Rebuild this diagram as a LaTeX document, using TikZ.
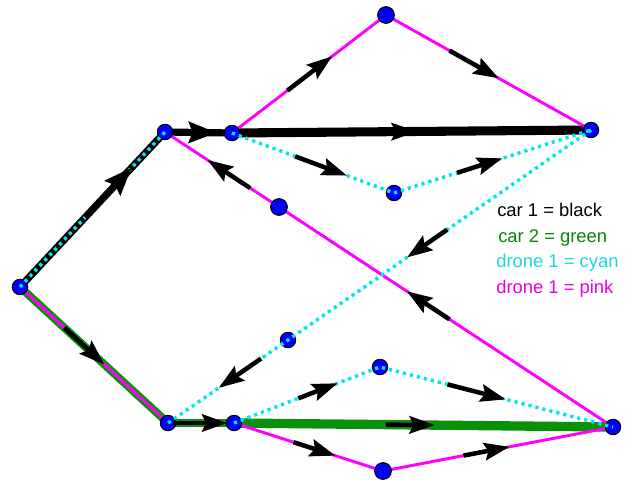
\documentclass[tikz,border=0pt]{standalone}
\usepackage{fontspec}
\setmainfont{Liberation Sans}
\usetikzlibrary{arrows.meta,calc}

\definecolor{cargreen}{RGB}{10,145,10}
\definecolor{dronecyan}{RGB}{0,230,235}
\definecolor{dronepink}{RGB}{255,0,255}
\definecolor{legendcyan}{RGB}{30,215,225}
\definecolor{legendpink}{RGB}{230,0,230}

\tikzset{
  stop/.style={circle,draw=black,fill=blue,line width=0.8pt,minimum size=11.5pt,inner sep=0pt},
  bigstop/.style={stop,minimum size=12.5pt},
  pinkpath/.style={dronepink,line width=2.2pt},
  cyanpath/.style={dronecyan,line width=2.6pt,dash pattern=on 2.4pt off 3pt},
  flow/.style={black,line width=3.4pt,-{Stealth[length=19pt,width=13pt,inset=3pt]}},
  bigflow/.style={black,line width=3.4pt,-{Stealth[length=21pt,width=16pt,inset=3pt]}},
  legend/.style={anchor=base west,inner sep=0pt,font=\fontsize{13.8}{16}\selectfont}
}

\begin{document}
\begin{tikzpicture}[x=0.75pt,y=-0.75pt]
\useasboundingbox (0,0) rectangle (625,479);

% stops
\path (20,287) coordinate (s)
      (165,132) coordinate (b)
      (232,133) coordinate (c)
      (386,15) coordinate (t)
      (591,130) coordinate (r1)
      (394,193) coordinate (m1)
      (279,207) coordinate (p1)
      (168,423) coordinate (d)
      (234,423) coordinate (e)
      (288,340) coordinate (q)
      (380,367) coordinate (m2)
      (613,427) coordinate (r2)
      (383,471) coordinate (bt);

% car 2
\draw[cargreen,line width=6pt] (s) -- (d);
\draw[cargreen,line width=6.5pt] (d) -- (e);
\draw[cargreen,line width=7pt] (e) -- (r2);
% car 1
\draw[black,line width=5.4pt,line join=round] (s) -- (b) -- (c);
\draw[black,line width=6.8pt] (c) -- (r1);
% drone pink
\draw[pinkpath] (s) -- (d);
\draw[pinkpath,line join=round] (c) -- (t) -- (r1);
\draw[pinkpath] (r2) -- (p1) -- (b);
\draw[pinkpath,line join=round] (e) -- (bt) -- (r2);

\foreach \n in {s,b,c,r1,m1,d,e,q,m2,r2}
  \node[stop] (\n node) at (\n) {};
\foreach \n in {t,p1,bt}
  \node[bigstop] (\n node) at (\n) {};

% drone cyan
\draw[cyanpath] (s) -- (b);
\draw[cyanpath] (c) -- (m1) -- (r1);
\draw[cyanpath] (r1) -- (q) -- (d);
\draw[cyanpath] (e) -- (m2) -- (r2);

% directions
\draw[bigflow] ($(s)!0.45!(b)$) -- ($(s)!0.77!(b)$);
\draw[bigflow] ($(b)!0.2!(c)$) -- ($(b)!0.77!(c)$);
\foreach \u/\v/\a/\z in {c/r1/0.38/0.515, c/t/0.36/0.65, t/r1/0.31/0.55,
    c/m1/0.39/0.71, m1/r1/0.32/0.55, r1/d/0.34/0.435, r1/d/0.78/0.88,
    r2/b/0.365/0.46, r2/b/0.81/0.905, s/d/0.30/0.57, d/e/0.08/0.90,
    e/r2/0.40/0.53, e/m2/0.44/0.71, m2/r2/0.29/0.54, e/bt/0.40/0.68,
    bt/r2/0.35/0.55}
  \draw[flow] ($(\u)!\a!(\v)$) -- ($(\u)!\z!(\v)$);

% legend
\node[legend,text=black] (car1) at (497,216) {car 1 = black};
\node[legend,text=cargreen!90!black] (car2) at (498,242) {car 2 = green};
\node[legend,text=legendcyan] (drone1) at (496,267) {drone 1 = cyan};
\node[legend,text=legendpink] (drone2) at (496,293) {drone 1 = pink};

\end{tikzpicture}
\end{document}
